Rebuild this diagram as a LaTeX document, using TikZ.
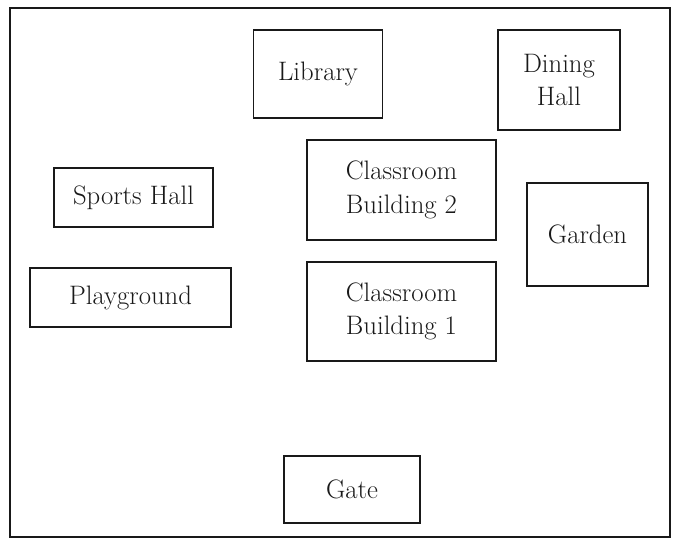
\documentclass[tikz,border=0pt]{standalone}
\usepackage{xcolor}
\usepackage{tikz}
\usetikzlibrary{positioning}
\definecolor{inkline}{RGB}{25,25,25}
\definecolor{paper}{RGB}{255,255,255}

\tikzset{
  place/.style={draw=inkline, line width=1.3pt, align=center, inner sep=0pt,
    font=\fontsize{19}{24}\selectfont, text=inkline},
}

\begin{document}
\begin{tikzpicture}
  \useasboundingbox (0,0) rectangle (16.95,-13.6);
  \fill[paper] (0,0) rectangle (16.95,-13.6);
  % outer frame of the campus
  \draw[draw=inkline, line width=1.3pt] (0.25,-0.2) rectangle (16.75,-13.425);

  \node[place, minimum width=3.225cm, minimum height=2.2cm] (library) at (7.95,-1.85) {Library};
  \node[place, minimum width=3.05cm, minimum height=2.5cm] (dining) at (13.975,-2.0) {Dining\\Hall};
  \node[place, minimum width=3.975cm, minimum height=1.475cm] (sports) at (3.3375,-4.9375) {Sports Hall};
  \node[place, minimum width=4.725cm, minimum height=2.5cm] (class2) at (10.0375,-4.75) {Classroom\\Building 2};
  \node[place, minimum width=3.025cm, minimum height=2.575cm] (garden) at (14.6875,-5.8625) {Garden};
  \node[place, minimum width=5.025cm, minimum height=1.475cm] (playground) at (3.2625,-7.4375) {Playground};
  \node[place, minimum width=4.725cm, minimum height=2.475cm] (class1) at (10.0375,-7.7875) {Classroom\\Building 1};
  \node[place, minimum width=3.4cm, minimum height=1.675cm] (gate) at (8.8,-12.2375) {Gate};
\end{tikzpicture}
\end{document}
